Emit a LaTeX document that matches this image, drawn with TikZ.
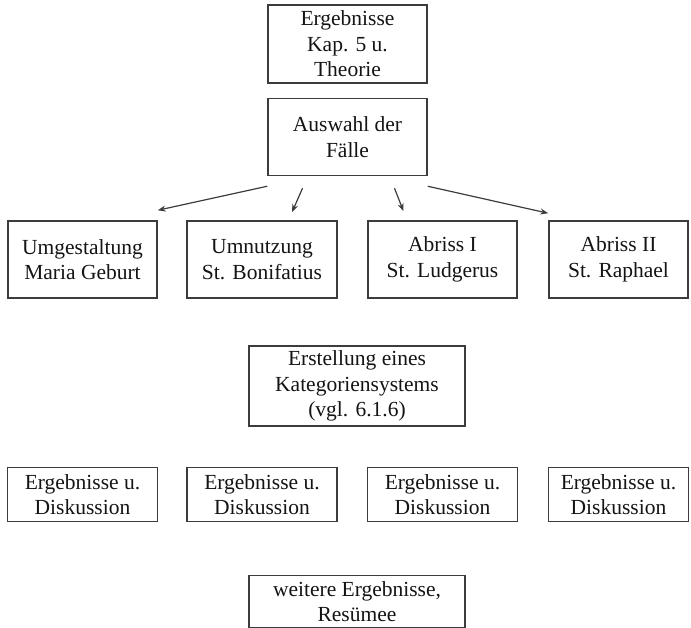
\documentclass[tikz,border=0pt]{standalone}
\usepackage{fontspec}
\setmainfont{Liberation Serif}
\usetikzlibrary{arrows.meta,positioning}
\definecolor{boxline}{RGB}{60,60,60}
\definecolor{boxtext}{RGB}{20,20,20}

\begin{document}
\begin{tikzpicture}[
    x=1pt, y=-1pt,
    node distance=14pt,
    box/.style={rectangle, draw=boxline, line width=1.5pt, text=boxtext, align=center, inner sep=0pt, font=\fontsize{21.5}{25.5}\selectfont},
    casebox/.style={box, minimum height=77pt},
    resbox/.style={box, minimum height=54pt},
    arrow/.style={-{Stealth[length=8pt,width=6pt]}, line width=1.2pt, draw=boxline}
]
\useasboundingbox (0,0) rectangle (691,628);

\node[box, minimum width=159pt, minimum height=78pt] (erg) at (347.5,44) {Ergebnisse\\Kap. 5 u.\\Theorie};
\node[box, minimum width=159pt, minimum height=77pt, below=14pt of erg] (auswahl) {Auswahl der\\Fälle};

\node[casebox, minimum width=149pt] (umg) at (82.5,259.5) {Umgestaltung\\Maria Geburt};
\node[casebox, minimum width=150pt] (umn) at (262,259.5) {Umnutzung\\St. Bonifatius};
\node[casebox, minimum width=149pt] (abr1) at (442.5,259.5) {Abriss I\\St. Ludgerus};
\node[casebox, minimum width=139pt] (abr2) at (618.5,259.5) {Abriss II\\St. Raphael};

\node[box, minimum width=216pt, minimum height=80pt] (erst) at (357,386) {Erstellung eines\\Kategoriensystems\\(vgl. 6.1.6)};

\node[resbox, minimum width=150pt, below=168pt of umg] (res1) {Ergebnisse u.\\Diskussion};
\node[resbox, minimum width=150pt, below=168pt of umn] (res2) {Ergebnisse u.\\Diskussion};
\node[resbox, minimum width=150pt, below=168pt of abr1] (res3) {Ergebnisse u.\\Diskussion};
\node[resbox, minimum width=140pt, below=168pt of abr2] (res4) {Ergebnisse u.\\Diskussion};

\node[box, minimum width=216pt, minimum height=52pt, below=148pt of erst] (weitere) {weitere Ergebnisse,\\Resümee};

\draw[arrow] ([yshift=-10pt]auswahl.south west) -- ([yshift=10pt]umg.north east);
\draw[arrow] ([xshift=-45pt,yshift=-12pt]auswahl.south) -- ([xshift=30pt,yshift=8pt]umn.north);
\draw[arrow] ([xshift=47pt,yshift=-12pt]auswahl.south) -- ([xshift=-39pt,yshift=9pt]abr1.north);
\draw[arrow] ([yshift=-10pt]auswahl.south east) -- ([yshift=7pt]abr2.north west);
\end{tikzpicture}
\end{document}
